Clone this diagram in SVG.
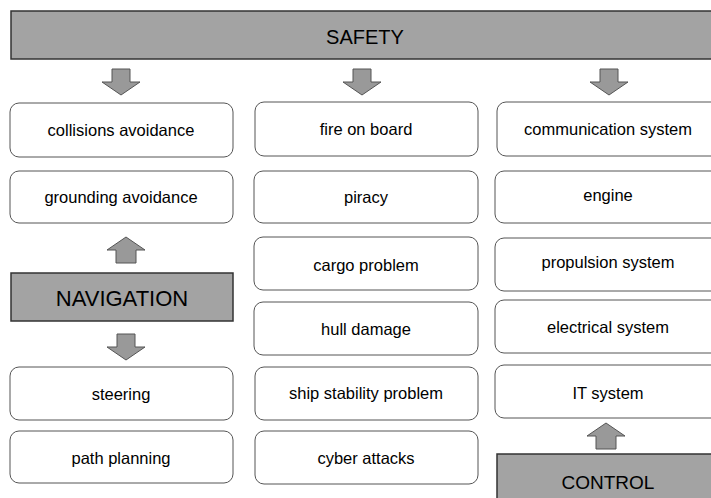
<svg xmlns="http://www.w3.org/2000/svg" width="711" height="498" viewBox="0 0 711 498">
<style>
.hdr{fill:#a3a3a3;stroke:#333;stroke-width:1.5}
.box{fill:#fff;stroke:#555;stroke-width:1}
.t{font-family:"Liberation Sans",Arial,sans-serif;font-size:16.5px;fill:#000;text-anchor:middle}
.h{font-family:"Liberation Sans",Arial,sans-serif;font-size:20px;fill:#000;text-anchor:middle}
.arr{fill:#999;stroke:#555;stroke-width:1}
</style>
<defs>
<polygon id="down" points="-9,0 9,0 9,13 19,13 0,26 -19,13 -9,13"/>
<polygon id="up" points="-10,26 10,26 10,13 19,13 0,0 -19,13 -10,13"/>
</defs>
<g id="safety"><rect class="hdr" x="11" y="11" width="712" height="48"/><text class="h" x="365" y="44">SAFETY</text></g>
<g id="collisions"><rect class="box" x="10" y="103" width="223" height="54" rx="9"/><text class="t" x="121" y="136">collisions avoidance</text></g>
<g id="grounding"><rect class="box" x="10" y="171" width="223" height="52" rx="9"/><text class="t" x="121" y="203">grounding avoidance</text></g>
<g id="navigation"><rect class="hdr" x="11" y="273" width="222" height="48"/><text class="h" x="122" y="306" style="font-size:22px">NAVIGATION</text></g>
<g id="steering"><rect class="box" x="10" y="367" width="223" height="53" rx="9"/><text class="t" x="121" y="400">steering</text></g>
<g id="path"><rect class="box" x="10" y="431" width="223" height="52" rx="9"/><text class="t" x="121" y="464">path planning</text></g>
<g id="fire"><rect class="box" x="255" y="102" width="223" height="54" rx="9"/><text class="t" x="366" y="135">fire on board</text></g>
<g id="piracy"><rect class="box" x="254" y="171" width="224" height="52" rx="9"/><text class="t" x="366" y="203">piracy</text></g>
<g id="cargo"><rect class="box" x="254" y="237" width="224" height="53" rx="9"/><text class="t" x="366" y="271">cargo problem</text></g>
<g id="hull"><rect class="box" x="254" y="302" width="224" height="53" rx="9"/><text class="t" x="366" y="335">hull damage</text></g>
<g id="stability"><rect class="box" x="255" y="367" width="223" height="53" rx="9"/><text class="t" x="366" y="399">ship stability problem</text></g>
<g id="cyber"><rect class="box" x="255" y="431" width="223" height="53" rx="9"/><text class="t" x="366" y="464">cyber attacks</text></g>
<g id="communication"><rect class="box" x="497" y="102" width="224" height="54" rx="9"/><text class="t" x="608" y="135">communication system</text></g>
<g id="engine"><rect class="box" x="495" y="171" width="226" height="52" rx="9"/><text class="t" x="608" y="201">engine</text></g>
<g id="propulsion"><rect class="box" x="495" y="238" width="226" height="53" rx="9"/><text class="t" x="608" y="268">propulsion system</text></g>
<g id="electrical"><rect class="box" x="495" y="300" width="226" height="53" rx="9"/><text class="t" x="608" y="333">electrical system</text></g>
<g id="it"><rect class="box" x="495" y="365" width="226" height="53" rx="9"/><text class="t" x="608" y="399">IT system</text></g>
<g id="control"><rect class="hdr" x="497" y="454" width="226" height="60"/><text class="h" x="608" y="489" style="font-size:19px">CONTROL</text></g>
<g id="connectors">
<use href="#down" class="arr" x="121" y="69"/>
<use href="#down" class="arr" x="362" y="69"/>
<use href="#down" class="arr" x="609" y="69"/>
<use href="#up" class="arr" x="126" y="237"/>
<use href="#down" class="arr" x="126" y="334"/>
<use href="#up" class="arr" x="606" y="423"/>
</g>
</svg>
